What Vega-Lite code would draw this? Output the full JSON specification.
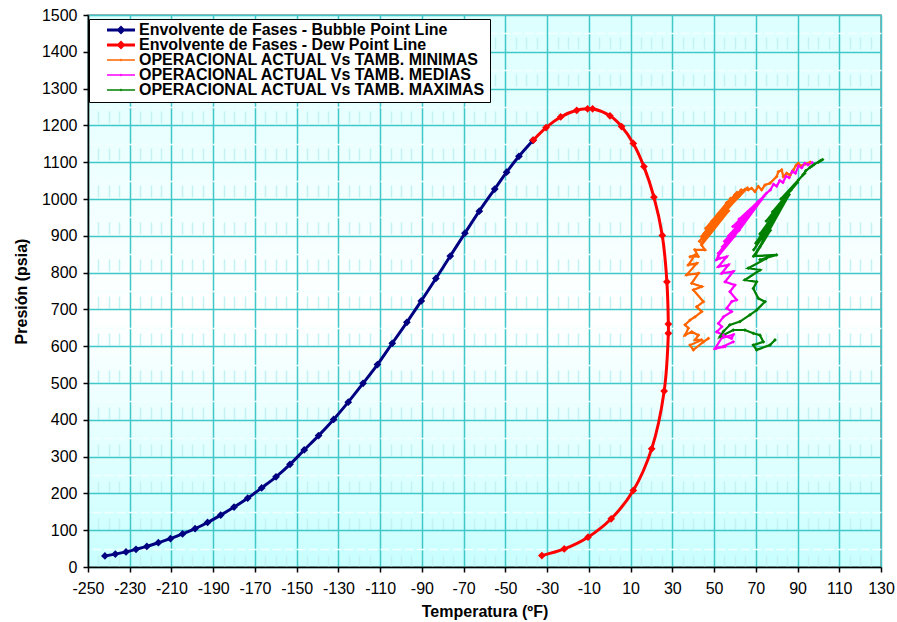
{
  "$schema": "https://vega.github.io/schema/vega-lite/v6.json",
  "width": 793,
  "height": 552,
  "autosize": {"type": "none"},
  "padding": {"left": 88, "top": 15, "right": 16, "bottom": 55},
  "background": "white",
  "config": {
    "font": "Liberation Sans",
    "view": {
      "fill": {"gradient": "linear", "x1": 0, "y1": 0, "x2": 0, "y2": 1,
        "stops": [{"offset": 0, "color": "#dcffff"}, {"offset": 0.55, "color": "#ffffff"}, {"offset": 1, "color": "#c8ffff"}]},
      "stroke": "#909090",
      "strokeWidth": 1.5
    }
  },
  "datasets": {
    "pts": [
      {"s": "Envolvente de Fases - Bubble Point Line", "o": 1, "t": -241.9, "p": 30},
      {"s": "Envolvente de Fases - Bubble Point Line", "o": 2, "t": -236.9, "p": 35},
      {"s": "Envolvente de Fases - Bubble Point Line", "o": 3, "t": -231.8, "p": 41},
      {"s": "Envolvente de Fases - Bubble Point Line", "o": 4, "t": -227.0, "p": 48},
      {"s": "Envolvente de Fases - Bubble Point Line", "o": 5, "t": -221.8, "p": 56},
      {"s": "Envolvente de Fases - Bubble Point Line", "o": 6, "t": -216.3, "p": 66},
      {"s": "Envolvente de Fases - Bubble Point Line", "o": 7, "t": -210.5, "p": 77},
      {"s": "Envolvente de Fases - Bubble Point Line", "o": 8, "t": -204.7, "p": 90},
      {"s": "Envolvente de Fases - Bubble Point Line", "o": 9, "t": -198.7, "p": 104},
      {"s": "Envolvente de Fases - Bubble Point Line", "o": 10, "t": -192.7, "p": 121},
      {"s": "Envolvente de Fases - Bubble Point Line", "o": 11, "t": -186.4, "p": 141},
      {"s": "Envolvente de Fases - Bubble Point Line", "o": 12, "t": -180.0, "p": 163},
      {"s": "Envolvente de Fases - Bubble Point Line", "o": 13, "t": -173.5, "p": 187},
      {"s": "Envolvente de Fases - Bubble Point Line", "o": 14, "t": -166.8, "p": 215},
      {"s": "Envolvente de Fases - Bubble Point Line", "o": 15, "t": -159.9, "p": 245},
      {"s": "Envolvente de Fases - Bubble Point Line", "o": 16, "t": -153.2, "p": 279},
      {"s": "Envolvente de Fases - Bubble Point Line", "o": 17, "t": -146.4, "p": 318},
      {"s": "Envolvente de Fases - Bubble Point Line", "o": 18, "t": -139.5, "p": 357},
      {"s": "Envolvente de Fases - Bubble Point Line", "o": 19, "t": -132.3, "p": 401},
      {"s": "Envolvente de Fases - Bubble Point Line", "o": 20, "t": -125.3, "p": 448},
      {"s": "Envolvente de Fases - Bubble Point Line", "o": 21, "t": -118.2, "p": 499},
      {"s": "Envolvente de Fases - Bubble Point Line", "o": 22, "t": -111.3, "p": 550},
      {"s": "Envolvente de Fases - Bubble Point Line", "o": 23, "t": -104.2, "p": 608},
      {"s": "Envolvente de Fases - Bubble Point Line", "o": 24, "t": -97.2, "p": 665},
      {"s": "Envolvente de Fases - Bubble Point Line", "o": 25, "t": -90.3, "p": 723},
      {"s": "Envolvente de Fases - Bubble Point Line", "o": 26, "t": -83.3, "p": 784},
      {"s": "Envolvente de Fases - Bubble Point Line", "o": 27, "t": -76.4, "p": 845},
      {"s": "Envolvente de Fases - Bubble Point Line", "o": 28, "t": -69.4, "p": 907},
      {"s": "Envolvente de Fases - Bubble Point Line", "o": 29, "t": -62.5, "p": 967},
      {"s": "Envolvente de Fases - Bubble Point Line", "o": 30, "t": -55.1, "p": 1027},
      {"s": "Envolvente de Fases - Bubble Point Line", "o": 31, "t": -49.4, "p": 1073},
      {"s": "Envolvente de Fases - Bubble Point Line", "o": 32, "t": -43.5, "p": 1116},
      {"s": "Envolvente de Fases - Bubble Point Line", "o": 33, "t": -36.8, "p": 1159},
      {"s": "Envolvente de Fases - Dew Point Line", "o": 1, "t": -36.6, "p": 1160},
      {"s": "Envolvente de Fases - Dew Point Line", "o": 2, "t": -30.5, "p": 1194},
      {"s": "Envolvente de Fases - Dew Point Line", "o": 3, "t": -23.5, "p": 1223},
      {"s": "Envolvente de Fases - Dew Point Line", "o": 4, "t": -15.8, "p": 1241},
      {"s": "Envolvente de Fases - Dew Point Line", "o": 5, "t": -10.6, "p": 1245},
      {"s": "Envolvente de Fases - Dew Point Line", "o": 6, "t": -8.2, "p": 1245},
      {"s": "Envolvente de Fases - Dew Point Line", "o": 7, "t": 0.1, "p": 1226},
      {"s": "Envolvente de Fases - Dew Point Line", "o": 8, "t": 5.7, "p": 1197},
      {"s": "Envolvente de Fases - Dew Point Line", "o": 9, "t": 11.3, "p": 1151},
      {"s": "Envolvente de Fases - Dew Point Line", "o": 10, "t": 16.4, "p": 1088},
      {"s": "Envolvente de Fases - Dew Point Line", "o": 11, "t": 21.2, "p": 1005},
      {"s": "Envolvente de Fases - Dew Point Line", "o": 12, "t": 25.2, "p": 901},
      {"s": "Envolvente de Fases - Dew Point Line", "o": 13, "t": 27.4, "p": 775},
      {"s": "Envolvente de Fases - Dew Point Line", "o": 14, "t": 28.1, "p": 660},
      {"s": "Envolvente de Fases - Dew Point Line", "o": 15, "t": 28.1, "p": 635},
      {"s": "Envolvente de Fases - Dew Point Line", "o": 16, "t": 26.1, "p": 478},
      {"s": "Envolvente de Fases - Dew Point Line", "o": 17, "t": 20.1, "p": 321},
      {"s": "Envolvente de Fases - Dew Point Line", "o": 18, "t": 11.3, "p": 208},
      {"s": "Envolvente de Fases - Dew Point Line", "o": 19, "t": 0.7, "p": 131},
      {"s": "Envolvente de Fases - Dew Point Line", "o": 20, "t": -10.4, "p": 81},
      {"s": "Envolvente de Fases - Dew Point Line", "o": 21, "t": -21.8, "p": 49},
      {"s": "Envolvente de Fases - Dew Point Line", "o": 22, "t": -32.5, "p": 31}
    ],
    "ops": [
      {"s": "OPERACIONAL ACTUAL Vs TAMB. MINIMAS", "o": 1, "t": 96.0, "p": 1100},
      {"s": "OPERACIONAL ACTUAL Vs TAMB. MINIMAS", "o": 2, "t": 93.6, "p": 1095},
      {"s": "OPERACIONAL ACTUAL Vs TAMB. MINIMAS", "o": 3, "t": 91.5, "p": 1090},
      {"s": "OPERACIONAL ACTUAL Vs TAMB. MINIMAS", "o": 4, "t": 90.4, "p": 1097},
      {"s": "OPERACIONAL ACTUAL Vs TAMB. MINIMAS", "o": 5, "t": 89.3, "p": 1092},
      {"s": "OPERACIONAL ACTUAL Vs TAMB. MINIMAS", "o": 6, "t": 88.0, "p": 1079},
      {"s": "OPERACIONAL ACTUAL Vs TAMB. MINIMAS", "o": 7, "t": 86.4, "p": 1065},
      {"s": "OPERACIONAL ACTUAL Vs TAMB. MINIMAS", "o": 8, "t": 84.8, "p": 1070},
      {"s": "OPERACIONAL ACTUAL Vs TAMB. MINIMAS", "o": 9, "t": 83.2, "p": 1061},
      {"s": "OPERACIONAL ACTUAL Vs TAMB. MINIMAS", "o": 10, "t": 82.4, "p": 1079},
      {"s": "OPERACIONAL ACTUAL Vs TAMB. MINIMAS", "o": 11, "t": 80.8, "p": 1074},
      {"s": "OPERACIONAL ACTUAL Vs TAMB. MINIMAS", "o": 12, "t": 80.0, "p": 1061},
      {"s": "OPERACIONAL ACTUAL Vs TAMB. MINIMAS", "o": 13, "t": 76.8, "p": 1043},
      {"s": "OPERACIONAL ACTUAL Vs TAMB. MINIMAS", "o": 14, "t": 74.4, "p": 1038},
      {"s": "OPERACIONAL ACTUAL Vs TAMB. MINIMAS", "o": 15, "t": 72.8, "p": 1025},
      {"s": "OPERACIONAL ACTUAL Vs TAMB. MINIMAS", "o": 16, "t": 71.2, "p": 1034},
      {"s": "OPERACIONAL ACTUAL Vs TAMB. MINIMAS", "o": 17, "t": 69.6, "p": 1020},
      {"s": "OPERACIONAL ACTUAL Vs TAMB. MINIMAS", "o": 18, "t": 68.0, "p": 1029},
      {"s": "OPERACIONAL ACTUAL Vs TAMB. MINIMAS", "o": 19, "t": 66.4, "p": 1025},
      {"s": "OPERACIONAL ACTUAL Vs TAMB. MINIMAS", "o": 20, "t": 64.8, "p": 1026},
      {"s": "OPERACIONAL ACTUAL Vs TAMB. MINIMAS", "o": 21, "t": 60.0, "p": 1012},
      {"s": "OPERACIONAL ACTUAL Vs TAMB. MINIMAS", "o": 22, "t": 48.0, "p": 930},
      {"s": "OPERACIONAL ACTUAL Vs TAMB. MINIMAS", "o": 23, "t": 64.0, "p": 1022},
      {"s": "OPERACIONAL ACTUAL Vs TAMB. MINIMAS", "o": 24, "t": 44.0, "p": 898},
      {"s": "OPERACIONAL ACTUAL Vs TAMB. MINIMAS", "o": 25, "t": 58.0, "p": 992},
      {"s": "OPERACIONAL ACTUAL Vs TAMB. MINIMAS", "o": 26, "t": 51.0, "p": 950},
      {"s": "OPERACIONAL ACTUAL Vs TAMB. MINIMAS", "o": 27, "t": 66.0, "p": 1030},
      {"s": "OPERACIONAL ACTUAL Vs TAMB. MINIMAS", "o": 28, "t": 47.0, "p": 918},
      {"s": "OPERACIONAL ACTUAL Vs TAMB. MINIMAS", "o": 29, "t": 55.0, "p": 978},
      {"s": "OPERACIONAL ACTUAL Vs TAMB. MINIMAS", "o": 30, "t": 43.0, "p": 885},
      {"s": "OPERACIONAL ACTUAL Vs TAMB. MINIMAS", "o": 31, "t": 62.0, "p": 1008},
      {"s": "OPERACIONAL ACTUAL Vs TAMB. MINIMAS", "o": 32, "t": 52.0, "p": 960},
      {"s": "OPERACIONAL ACTUAL Vs TAMB. MINIMAS", "o": 33, "t": 45.0, "p": 905},
      {"s": "OPERACIONAL ACTUAL Vs TAMB. MINIMAS", "o": 34, "t": 58.0, "p": 1002},
      {"s": "OPERACIONAL ACTUAL Vs TAMB. MINIMAS", "o": 35, "t": 46.0, "p": 920},
      {"s": "OPERACIONAL ACTUAL Vs TAMB. MINIMAS", "o": 36, "t": 63.0, "p": 1025},
      {"s": "OPERACIONAL ACTUAL Vs TAMB. MINIMAS", "o": 37, "t": 50.0, "p": 935},
      {"s": "OPERACIONAL ACTUAL Vs TAMB. MINIMAS", "o": 38, "t": 56.0, "p": 990},
      {"s": "OPERACIONAL ACTUAL Vs TAMB. MINIMAS", "o": 39, "t": 44.0, "p": 880},
      {"s": "OPERACIONAL ACTUAL Vs TAMB. MINIMAS", "o": 40, "t": 54.0, "p": 970},
      {"s": "OPERACIONAL ACTUAL Vs TAMB. MINIMAS", "o": 41, "t": 49.0, "p": 940},
      {"s": "OPERACIONAL ACTUAL Vs TAMB. MINIMAS", "o": 42, "t": 61.0, "p": 1018},
      {"s": "OPERACIONAL ACTUAL Vs TAMB. MINIMAS", "o": 43, "t": 47.0, "p": 905},
      {"s": "OPERACIONAL ACTUAL Vs TAMB. MINIMAS", "o": 44, "t": 57.0, "p": 968},
      {"s": "OPERACIONAL ACTUAL Vs TAMB. MINIMAS", "o": 45, "t": 44.0, "p": 875},
      {"s": "OPERACIONAL ACTUAL Vs TAMB. MINIMAS", "o": 46, "t": 45.6, "p": 862},
      {"s": "OPERACIONAL ACTUAL Vs TAMB. MINIMAS", "o": 47, "t": 40.8, "p": 862},
      {"s": "OPERACIONAL ACTUAL Vs TAMB. MINIMAS", "o": 48, "t": 42.4, "p": 844},
      {"s": "OPERACIONAL ACTUAL Vs TAMB. MINIMAS", "o": 49, "t": 38.5, "p": 843},
      {"s": "OPERACIONAL ACTUAL Vs TAMB. MINIMAS", "o": 50, "t": 40.9, "p": 848},
      {"s": "OPERACIONAL ACTUAL Vs TAMB. MINIMAS", "o": 51, "t": 37.7, "p": 821},
      {"s": "OPERACIONAL ACTUAL Vs TAMB. MINIMAS", "o": 52, "t": 41.7, "p": 825},
      {"s": "OPERACIONAL ACTUAL Vs TAMB. MINIMAS", "o": 53, "t": 36.9, "p": 794},
      {"s": "OPERACIONAL ACTUAL Vs TAMB. MINIMAS", "o": 54, "t": 42.5, "p": 798},
      {"s": "OPERACIONAL ACTUAL Vs TAMB. MINIMAS", "o": 55, "t": 39.3, "p": 771},
      {"s": "OPERACIONAL ACTUAL Vs TAMB. MINIMAS", "o": 56, "t": 44.1, "p": 762},
      {"s": "OPERACIONAL ACTUAL Vs TAMB. MINIMAS", "o": 57, "t": 40.1, "p": 753},
      {"s": "OPERACIONAL ACTUAL Vs TAMB. MINIMAS", "o": 58, "t": 44.9, "p": 721},
      {"s": "OPERACIONAL ACTUAL Vs TAMB. MINIMAS", "o": 59, "t": 41.7, "p": 707},
      {"s": "OPERACIONAL ACTUAL Vs TAMB. MINIMAS", "o": 60, "t": 44.1, "p": 694},
      {"s": "OPERACIONAL ACTUAL Vs TAMB. MINIMAS", "o": 61, "t": 40.9, "p": 680},
      {"s": "OPERACIONAL ACTUAL Vs TAMB. MINIMAS", "o": 62, "t": 38.5, "p": 671},
      {"s": "OPERACIONAL ACTUAL Vs TAMB. MINIMAS", "o": 63, "t": 36.1, "p": 658},
      {"s": "OPERACIONAL ACTUAL Vs TAMB. MINIMAS", "o": 64, "t": 37.7, "p": 649},
      {"s": "OPERACIONAL ACTUAL Vs TAMB. MINIMAS", "o": 65, "t": 36.1, "p": 630},
      {"s": "OPERACIONAL ACTUAL Vs TAMB. MINIMAS", "o": 66, "t": 39.3, "p": 639},
      {"s": "OPERACIONAL ACTUAL Vs TAMB. MINIMAS", "o": 67, "t": 42.5, "p": 630},
      {"s": "OPERACIONAL ACTUAL Vs TAMB. MINIMAS", "o": 68, "t": 40.9, "p": 617},
      {"s": "OPERACIONAL ACTUAL Vs TAMB. MINIMAS", "o": 69, "t": 44.1, "p": 617},
      {"s": "OPERACIONAL ACTUAL Vs TAMB. MINIMAS", "o": 70, "t": 38.5, "p": 603},
      {"s": "OPERACIONAL ACTUAL Vs TAMB. MINIMAS", "o": 71, "t": 40.1, "p": 590},
      {"s": "OPERACIONAL ACTUAL Vs TAMB. MINIMAS", "o": 72, "t": 44.9, "p": 612},
      {"s": "OPERACIONAL ACTUAL Vs TAMB. MINIMAS", "o": 73, "t": 47.3, "p": 621},
      {"s": "OPERACIONAL ACTUAL Vs TAMB. MEDIAS", "o": 1, "t": 97.0, "p": 1099},
      {"s": "OPERACIONAL ACTUAL Vs TAMB. MEDIAS", "o": 2, "t": 95.0, "p": 1093},
      {"s": "OPERACIONAL ACTUAL Vs TAMB. MEDIAS", "o": 3, "t": 93.5, "p": 1097},
      {"s": "OPERACIONAL ACTUAL Vs TAMB. MEDIAS", "o": 4, "t": 92.0, "p": 1085},
      {"s": "OPERACIONAL ACTUAL Vs TAMB. MEDIAS", "o": 5, "t": 90.5, "p": 1090},
      {"s": "OPERACIONAL ACTUAL Vs TAMB. MEDIAS", "o": 6, "t": 89.0, "p": 1070},
      {"s": "OPERACIONAL ACTUAL Vs TAMB. MEDIAS", "o": 7, "t": 87.5, "p": 1075},
      {"s": "OPERACIONAL ACTUAL Vs TAMB. MEDIAS", "o": 8, "t": 86.0, "p": 1058},
      {"s": "OPERACIONAL ACTUAL Vs TAMB. MEDIAS", "o": 9, "t": 84.5, "p": 1062},
      {"s": "OPERACIONAL ACTUAL Vs TAMB. MEDIAS", "o": 10, "t": 83.0, "p": 1045},
      {"s": "OPERACIONAL ACTUAL Vs TAMB. MEDIAS", "o": 11, "t": 81.5, "p": 1050},
      {"s": "OPERACIONAL ACTUAL Vs TAMB. MEDIAS", "o": 12, "t": 80.0, "p": 1035},
      {"s": "OPERACIONAL ACTUAL Vs TAMB. MEDIAS", "o": 13, "t": 78.5, "p": 1040},
      {"s": "OPERACIONAL ACTUAL Vs TAMB. MEDIAS", "o": 14, "t": 77.0, "p": 1025},
      {"s": "OPERACIONAL ACTUAL Vs TAMB. MEDIAS", "o": 15, "t": 75.0, "p": 1015},
      {"s": "OPERACIONAL ACTUAL Vs TAMB. MEDIAS", "o": 16, "t": 60.0, "p": 925},
      {"s": "OPERACIONAL ACTUAL Vs TAMB. MEDIAS", "o": 17, "t": 72.0, "p": 995},
      {"s": "OPERACIONAL ACTUAL Vs TAMB. MEDIAS", "o": 18, "t": 57.0, "p": 900},
      {"s": "OPERACIONAL ACTUAL Vs TAMB. MEDIAS", "o": 19, "t": 70.0, "p": 980},
      {"s": "OPERACIONAL ACTUAL Vs TAMB. MEDIAS", "o": 20, "t": 62.0, "p": 945},
      {"s": "OPERACIONAL ACTUAL Vs TAMB. MEDIAS", "o": 21, "t": 74.0, "p": 1008},
      {"s": "OPERACIONAL ACTUAL Vs TAMB. MEDIAS", "o": 22, "t": 55.0, "p": 885},
      {"s": "OPERACIONAL ACTUAL Vs TAMB. MEDIAS", "o": 23, "t": 68.0, "p": 968},
      {"s": "OPERACIONAL ACTUAL Vs TAMB. MEDIAS", "o": 24, "t": 59.0, "p": 925},
      {"s": "OPERACIONAL ACTUAL Vs TAMB. MEDIAS", "o": 25, "t": 71.0, "p": 992},
      {"s": "OPERACIONAL ACTUAL Vs TAMB. MEDIAS", "o": 26, "t": 54.0, "p": 870},
      {"s": "OPERACIONAL ACTUAL Vs TAMB. MEDIAS", "o": 27, "t": 65.0, "p": 950},
      {"s": "OPERACIONAL ACTUAL Vs TAMB. MEDIAS", "o": 28, "t": 57.0, "p": 895},
      {"s": "OPERACIONAL ACTUAL Vs TAMB. MEDIAS", "o": 29, "t": 69.0, "p": 975},
      {"s": "OPERACIONAL ACTUAL Vs TAMB. MEDIAS", "o": 30, "t": 52.0, "p": 852},
      {"s": "OPERACIONAL ACTUAL Vs TAMB. MEDIAS", "o": 31, "t": 62.0, "p": 915},
      {"s": "OPERACIONAL ACTUAL Vs TAMB. MEDIAS", "o": 32, "t": 73.0, "p": 1000},
      {"s": "OPERACIONAL ACTUAL Vs TAMB. MEDIAS", "o": 33, "t": 58.0, "p": 905},
      {"s": "OPERACIONAL ACTUAL Vs TAMB. MEDIAS", "o": 34, "t": 66.0, "p": 958},
      {"s": "OPERACIONAL ACTUAL Vs TAMB. MEDIAS", "o": 35, "t": 53.0, "p": 855},
      {"s": "OPERACIONAL ACTUAL Vs TAMB. MEDIAS", "o": 36, "t": 60.0, "p": 900},
      {"s": "OPERACIONAL ACTUAL Vs TAMB. MEDIAS", "o": 37, "t": 52.0, "p": 845},
      {"s": "OPERACIONAL ACTUAL Vs TAMB. MEDIAS", "o": 38, "t": 51.2, "p": 835},
      {"s": "OPERACIONAL ACTUAL Vs TAMB. MEDIAS", "o": 39, "t": 52.9, "p": 839},
      {"s": "OPERACIONAL ACTUAL Vs TAMB. MEDIAS", "o": 40, "t": 56.0, "p": 843},
      {"s": "OPERACIONAL ACTUAL Vs TAMB. MEDIAS", "o": 41, "t": 52.1, "p": 816},
      {"s": "OPERACIONAL ACTUAL Vs TAMB. MEDIAS", "o": 42, "t": 56.9, "p": 821},
      {"s": "OPERACIONAL ACTUAL Vs TAMB. MEDIAS", "o": 43, "t": 53.7, "p": 798},
      {"s": "OPERACIONAL ACTUAL Vs TAMB. MEDIAS", "o": 44, "t": 59.2, "p": 803},
      {"s": "OPERACIONAL ACTUAL Vs TAMB. MEDIAS", "o": 45, "t": 55.3, "p": 775},
      {"s": "OPERACIONAL ACTUAL Vs TAMB. MEDIAS", "o": 46, "t": 60.0, "p": 766},
      {"s": "OPERACIONAL ACTUAL Vs TAMB. MEDIAS", "o": 47, "t": 57.6, "p": 748},
      {"s": "OPERACIONAL ACTUAL Vs TAMB. MEDIAS", "o": 48, "t": 60.8, "p": 726},
      {"s": "OPERACIONAL ACTUAL Vs TAMB. MEDIAS", "o": 49, "t": 58.4, "p": 721},
      {"s": "OPERACIONAL ACTUAL Vs TAMB. MEDIAS", "o": 50, "t": 56.1, "p": 703},
      {"s": "OPERACIONAL ACTUAL Vs TAMB. MEDIAS", "o": 51, "t": 58.4, "p": 694},
      {"s": "OPERACIONAL ACTUAL Vs TAMB. MEDIAS", "o": 52, "t": 54.5, "p": 680},
      {"s": "OPERACIONAL ACTUAL Vs TAMB. MEDIAS", "o": 53, "t": 52.1, "p": 662},
      {"s": "OPERACIONAL ACTUAL Vs TAMB. MEDIAS", "o": 54, "t": 53.7, "p": 653},
      {"s": "OPERACIONAL ACTUAL Vs TAMB. MEDIAS", "o": 55, "t": 51.3, "p": 639},
      {"s": "OPERACIONAL ACTUAL Vs TAMB. MEDIAS", "o": 56, "t": 54.5, "p": 630},
      {"s": "OPERACIONAL ACTUAL Vs TAMB. MEDIAS", "o": 57, "t": 58.4, "p": 621},
      {"s": "OPERACIONAL ACTUAL Vs TAMB. MEDIAS", "o": 58, "t": 59.2, "p": 631},
      {"s": "OPERACIONAL ACTUAL Vs TAMB. MEDIAS", "o": 59, "t": 53.6, "p": 622},
      {"s": "OPERACIONAL ACTUAL Vs TAMB. MEDIAS", "o": 60, "t": 50.5, "p": 594},
      {"s": "OPERACIONAL ACTUAL Vs TAMB. MEDIAS", "o": 61, "t": 55.3, "p": 599},
      {"s": "OPERACIONAL ACTUAL Vs TAMB. MEDIAS", "o": 62, "t": 51.2, "p": 595},
      {"s": "OPERACIONAL ACTUAL Vs TAMB. MEDIAS", "o": 63, "t": 54.4, "p": 599},
      {"s": "OPERACIONAL ACTUAL Vs TAMB. MEDIAS", "o": 64, "t": 59.2, "p": 612},
      {"s": "OPERACIONAL ACTUAL Vs TAMB. MAXIMAS", "o": 1, "t": 102.0, "p": 1107},
      {"s": "OPERACIONAL ACTUAL Vs TAMB. MAXIMAS", "o": 2, "t": 100.0, "p": 1100},
      {"s": "OPERACIONAL ACTUAL Vs TAMB. MAXIMAS", "o": 3, "t": 101.0, "p": 1104},
      {"s": "OPERACIONAL ACTUAL Vs TAMB. MAXIMAS", "o": 4, "t": 98.0, "p": 1094},
      {"s": "OPERACIONAL ACTUAL Vs TAMB. MAXIMAS", "o": 5, "t": 96.0, "p": 1086},
      {"s": "OPERACIONAL ACTUAL Vs TAMB. MAXIMAS", "o": 6, "t": 97.0, "p": 1090},
      {"s": "OPERACIONAL ACTUAL Vs TAMB. MAXIMAS", "o": 7, "t": 94.0, "p": 1077},
      {"s": "OPERACIONAL ACTUAL Vs TAMB. MAXIMAS", "o": 8, "t": 92.5, "p": 1065},
      {"s": "OPERACIONAL ACTUAL Vs TAMB. MAXIMAS", "o": 9, "t": 93.5, "p": 1070},
      {"s": "OPERACIONAL ACTUAL Vs TAMB. MAXIMAS", "o": 10, "t": 90.5, "p": 1052},
      {"s": "OPERACIONAL ACTUAL Vs TAMB. MAXIMAS", "o": 11, "t": 82.0, "p": 1000},
      {"s": "OPERACIONAL ACTUAL Vs TAMB. MAXIMAS", "o": 12, "t": 90.0, "p": 1045},
      {"s": "OPERACIONAL ACTUAL Vs TAMB. MAXIMAS", "o": 13, "t": 78.0, "p": 965},
      {"s": "OPERACIONAL ACTUAL Vs TAMB. MAXIMAS", "o": 14, "t": 87.0, "p": 1025},
      {"s": "OPERACIONAL ACTUAL Vs TAMB. MAXIMAS", "o": 15, "t": 75.0, "p": 940},
      {"s": "OPERACIONAL ACTUAL Vs TAMB. MAXIMAS", "o": 16, "t": 84.0, "p": 995},
      {"s": "OPERACIONAL ACTUAL Vs TAMB. MAXIMAS", "o": 17, "t": 72.0, "p": 905},
      {"s": "OPERACIONAL ACTUAL Vs TAMB. MAXIMAS", "o": 18, "t": 81.0, "p": 975},
      {"s": "OPERACIONAL ACTUAL Vs TAMB. MAXIMAS", "o": 19, "t": 70.0, "p": 880},
      {"s": "OPERACIONAL ACTUAL Vs TAMB. MAXIMAS", "o": 20, "t": 79.0, "p": 950},
      {"s": "OPERACIONAL ACTUAL Vs TAMB. MAXIMAS", "o": 21, "t": 69.0, "p": 862},
      {"s": "OPERACIONAL ACTUAL Vs TAMB. MAXIMAS", "o": 22, "t": 76.0, "p": 920},
      {"s": "OPERACIONAL ACTUAL Vs TAMB. MAXIMAS", "o": 23, "t": 72.0, "p": 870},
      {"s": "OPERACIONAL ACTUAL Vs TAMB. MAXIMAS", "o": 24, "t": 86.0, "p": 1012},
      {"s": "OPERACIONAL ACTUAL Vs TAMB. MAXIMAS", "o": 25, "t": 74.0, "p": 895},
      {"s": "OPERACIONAL ACTUAL Vs TAMB. MAXIMAS", "o": 26, "t": 80.0, "p": 958},
      {"s": "OPERACIONAL ACTUAL Vs TAMB. MAXIMAS", "o": 27, "t": 70.0, "p": 850},
      {"s": "OPERACIONAL ACTUAL Vs TAMB. MAXIMAS", "o": 28, "t": 77.0, "p": 915},
      {"s": "OPERACIONAL ACTUAL Vs TAMB. MAXIMAS", "o": 29, "t": 69.0, "p": 845},
      {"s": "OPERACIONAL ACTUAL Vs TAMB. MAXIMAS", "o": 30, "t": 80.0, "p": 848},
      {"s": "OPERACIONAL ACTUAL Vs TAMB. MAXIMAS", "o": 31, "t": 72.0, "p": 835},
      {"s": "OPERACIONAL ACTUAL Vs TAMB. MAXIMAS", "o": 32, "t": 75.0, "p": 838},
      {"s": "OPERACIONAL ACTUAL Vs TAMB. MAXIMAS", "o": 33, "t": 66.4, "p": 812},
      {"s": "OPERACIONAL ACTUAL Vs TAMB. MAXIMAS", "o": 34, "t": 72.0, "p": 807},
      {"s": "OPERACIONAL ACTUAL Vs TAMB. MAXIMAS", "o": 35, "t": 64.8, "p": 780},
      {"s": "OPERACIONAL ACTUAL Vs TAMB. MAXIMAS", "o": 36, "t": 70.4, "p": 775},
      {"s": "OPERACIONAL ACTUAL Vs TAMB. MAXIMAS", "o": 37, "t": 68.8, "p": 757},
      {"s": "OPERACIONAL ACTUAL Vs TAMB. MAXIMAS", "o": 38, "t": 71.2, "p": 730},
      {"s": "OPERACIONAL ACTUAL Vs TAMB. MAXIMAS", "o": 39, "t": 74.4, "p": 721},
      {"s": "OPERACIONAL ACTUAL Vs TAMB. MAXIMAS", "o": 40, "t": 70.4, "p": 698},
      {"s": "OPERACIONAL ACTUAL Vs TAMB. MAXIMAS", "o": 41, "t": 67.2, "p": 685},
      {"s": "OPERACIONAL ACTUAL Vs TAMB. MAXIMAS", "o": 42, "t": 62.4, "p": 667},
      {"s": "OPERACIONAL ACTUAL Vs TAMB. MAXIMAS", "o": 43, "t": 57.6, "p": 658},
      {"s": "OPERACIONAL ACTUAL Vs TAMB. MAXIMAS", "o": 44, "t": 54.5, "p": 640},
      {"s": "OPERACIONAL ACTUAL Vs TAMB. MAXIMAS", "o": 45, "t": 52.9, "p": 626},
      {"s": "OPERACIONAL ACTUAL Vs TAMB. MAXIMAS", "o": 46, "t": 59.2, "p": 644},
      {"s": "OPERACIONAL ACTUAL Vs TAMB. MAXIMAS", "o": 47, "t": 64.8, "p": 644},
      {"s": "OPERACIONAL ACTUAL Vs TAMB. MAXIMAS", "o": 48, "t": 68.8, "p": 635},
      {"s": "OPERACIONAL ACTUAL Vs TAMB. MAXIMAS", "o": 49, "t": 72.0, "p": 630},
      {"s": "OPERACIONAL ACTUAL Vs TAMB. MAXIMAS", "o": 50, "t": 73.6, "p": 612},
      {"s": "OPERACIONAL ACTUAL Vs TAMB. MAXIMAS", "o": 51, "t": 68.8, "p": 603},
      {"s": "OPERACIONAL ACTUAL Vs TAMB. MAXIMAS", "o": 52, "t": 70.4, "p": 590},
      {"s": "OPERACIONAL ACTUAL Vs TAMB. MAXIMAS", "o": 53, "t": 76.8, "p": 603},
      {"s": "OPERACIONAL ACTUAL Vs TAMB. MAXIMAS", "o": 54, "t": 79.2, "p": 617}
    ]
  },
  "layer": [
    {
      "data": {"name": "pts"},
      "mark": {"type": "line", "strokeWidth": 3, "interpolate": "catmull-rom"},
      "encoding": {
        "x": {"field": "t", "type": "quantitative",
          "scale": {"domain": [-250, 130], "nice": false, "zero": false},
          "axis": {"values": [-250, -230, -210, -190, -170, -150, -130, -110, -90, -70, -50, -30, -10, 10, 30, 50, 70, 90, 110, 130],
            "labelExpr": "datum.value + ''",
            "grid": true, "gridColor": "#40c8c8", "gridWidth": 1.5, "domainColor": "black", "domainWidth": 1.5,
            "tickColor": "black", "tickSize": 5, "tickWidth": 1.5, "labelFontSize": 16, "labelColor": "black", "labelPadding": 8,
            "labelFlush": false, "labelOverlap": false, "labelFont": "Liberation Sans",
            "title": "Temperatura (ºF)", "titleFontSize": 16, "titleFontWeight": "bold", "titleColor": "black", "titlePadding": 7, "titleFont": "Liberation Sans"}},
        "y": {"field": "p", "type": "quantitative",
          "scale": {"domain": [0, 1500], "nice": false},
          "axis": {"values": [0, 100, 200, 300, 400, 500, 600, 700, 800, 900, 1000, 1100, 1200, 1300, 1400, 1500],
            "labelExpr": "datum.value + ''",
            "grid": true, "gridColor": "#40c8c8", "gridWidth": 1.5, "domainColor": "black", "domainWidth": 1.5,
            "tickColor": "black", "tickSize": 5, "tickWidth": 1.5, "labelFontSize": 16, "labelColor": "black", "labelPadding": 6,
            "labelOverlap": false, "labelFont": "Liberation Sans",
            "title": "Presión (psia)", "titleFontSize": 16, "titleFontWeight": "bold", "titleColor": "black", "titlePadding": 12, "titleFont": "Liberation Sans"}},
        "color": {"field": "s", "type": "nominal",
          "scale": {"domain": ["Envolvente de Fases - Bubble Point Line", "Envolvente de Fases - Dew Point Line", "OPERACIONAL ACTUAL Vs TAMB. MINIMAS", "OPERACIONAL ACTUAL Vs TAMB. MEDIAS", "OPERACIONAL ACTUAL Vs TAMB. MAXIMAS"],
            "range": ["#000080", "#ff0000", "#ff6600", "#ff00ff", "#008000"]},
          "legend": {
            "orient": "none", "legendX": 1, "legendY": 4, "title": null, "padding": 4,
            "fillColor": "white", "strokeColor": "black",
            "symbolSize": 1849, "symbolStrokeWidth": 0, "clipHeight": 14, "labelOffset": 3, "rowPadding": -4,
            "labelFont": "Liberation Sans", "labelFontSize": 16, "labelFontWeight": "bold", "labelColor": "black", "labelLimit": 600,
            "encode": {
              "symbols": {
                "update": {
                  "shape": {"signal": "indexof(datum.value, 'Envolvente') === 0 ? 'M-0.349,-0.07H0.953V0.07H-0.349Z M0.093,0L0.302,-0.209L0.511,0L0.302,0.209Z' : 'M-0.349,-0.037H0.953V0.037H-0.349Z M0.232,0L0.302,-0.07L0.372,0L0.302,0.07Z'"},
                  "fill": {"scale": "color", "field": "value"},
                  "stroke": {"value": "transparent"},
                  "strokeWidth": {"value": 0},
                  "size": {"value": 1849},
                  "opacity": {"value": 1}
                }
              },
              "labels": {"update": {"text": {"signal": "datum.label + '\u00a0\u00a0\u00a0'"}}}
            }
          }},
        "order": {"field": "o", "type": "quantitative"}
      }
    },
    {
      "data": {"name": "ops"},
      "mark": {"type": "line", "strokeWidth": 2.2},
      "encoding": {
        "x": {"field": "t", "type": "quantitative",
          "axis": {"values": [-245, -240, -235, -225, -220, -215, -205, -200, -195, -185, -180, -175, -165, -160, -155, -145, -140, -135, -125, -120, -115, -105, -100, -95, -85, -80, -75, -65, -60, -55, -45, -40, -35, -25, -20, -15, -5, 0, 5, 15, 20, 25, 35, 40, 45, 55, 60, 65, 75, 80, 85, 95, 100, 105, 115, 120, 125],
            "grid": true, "gridColor": "#c4f2f2", "gridDash": [12, 25], "gridWidth": 1.5,
            "labels": false, "ticks": false, "domain": false, "title": null}},
        "y": {"field": "p", "type": "quantitative",
          "axis": {"values": [50, 150, 250, 350, 450, 550, 650, 750, 850, 950, 1050, 1150, 1250, 1350, 1450],
            "grid": true, "gridColor": "#f2ffff", "gridDash": [9, 3], "gridWidth": 1.5,
            "labels": false, "ticks": false, "domain": false, "title": null}},
        "color": {"field": "s", "type": "nominal"},
        "order": {"field": "o", "type": "quantitative"}
      }
    },
    {
      "data": {"name": "ops"},
      "mark": {"type": "point", "shape": "diamond", "filled": true, "size": 14, "opacity": 1},
      "encoding": {
        "x": {"field": "t", "type": "quantitative", "axis": null},
        "y": {"field": "p", "type": "quantitative", "axis": null},
        "color": {"field": "s", "type": "nominal"}
      }
    },
    {
      "data": {"name": "pts"},
      "mark": {"type": "point", "shape": "diamond", "filled": true, "size": 60, "opacity": 1},
      "encoding": {
        "x": {"field": "t", "type": "quantitative", "axis": null},
        "y": {"field": "p", "type": "quantitative", "axis": null},
        "color": {"field": "s", "type": "nominal"}
      }
    }
  ],
  "resolve": {"axis": {"x": "independent", "y": "independent"}}
}
